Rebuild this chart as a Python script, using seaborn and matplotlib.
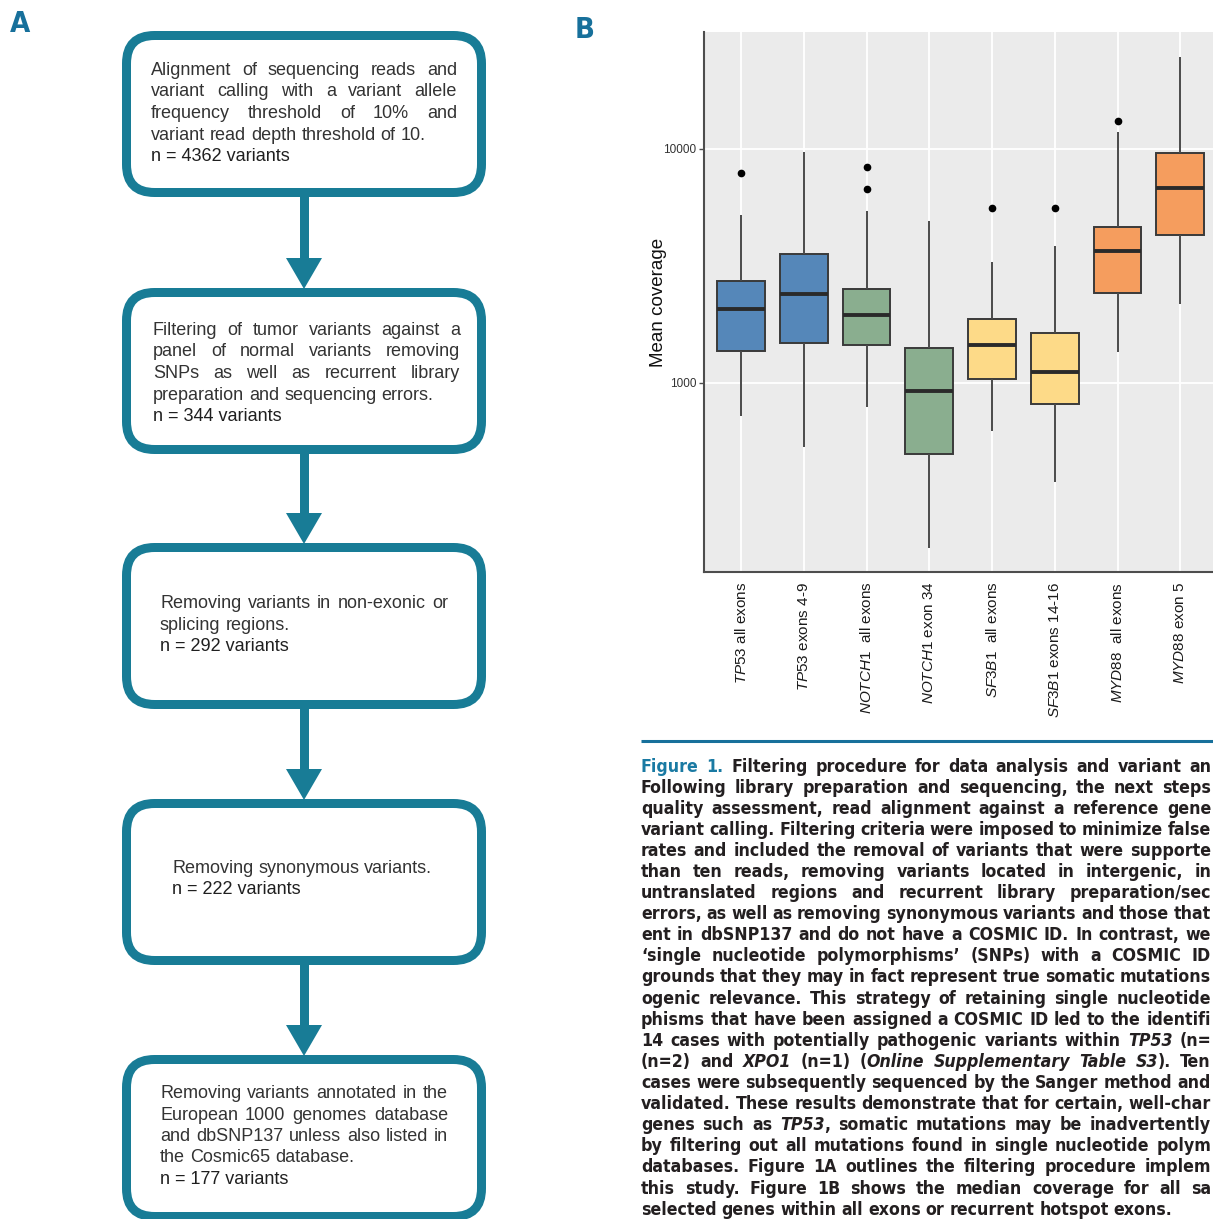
import numpy as np
import pandas as pd
import matplotlib
matplotlib.use("Agg")
import matplotlib.pyplot as plt
from matplotlib import font_manager as fm
from matplotlib.patches import FancyBboxPatch, Polygon, Rectangle
from matplotlib.ticker import NullLocator
import seaborn as sns

# ---------------- coverage per target region (panel B) ----------------
regions = ["TP53 all", "TP53 4-9", "NOTCH1 all", "NOTCH1 34",
           "SF3B1 all", "SF3B1 14-16", "MYD88 all", "MYD88 5"]
region_labels = [r"$\mathit{TP53}$ all exons", r"$\mathit{TP53}$ exons 4-9",
                 r"$\mathit{NOTCH1}$  all exons", r"$\mathit{NOTCH1}$ exon 34",
                 r"$\mathit{SF3B1}$  all exons", r"$\mathit{SF3B1}$ exons 14-16",
                 r"$\mathit{MYD88}$  all exons", r"$\mathit{MYD88}$ exon 5"]
whisker_low = [721, 535, 792, 197, 626, 379, 1357, 2169]
quartile_1 = [1370, 1482, 1458, 499, 1043, 811, 2416, 4302]
median_cov = [2065, 2408, 1946, 924, 1454, 1114, 3654, 6792]
quartile_3 = [2729, 3548, 2512, 1416, 1871, 1631, 4642, 9616]
whisker_high = [5224, 9730, 5433, 4909, 3278, 3838, 11790, 24720]
outliers = [[7870], [], [8350, 6745], [], [5580], [5613], [13170], []]
box_colors = ["#5587B9", "#5587B9", "#8AAE8F", "#8AAE8F",
              "#FDDA88", "#FDDA88", "#F59D5E", "#F59D5E"]

# ---------------- filtering steps (panel A) ----------------
step_text = [
    ["Alignment of sequencing reads and", "variant calling with a variant allele",
     "frequency threshold of 10% and", "variant read depth threshold of 10."],
    ["Filtering of tumor variants against a", "panel of normal variants removing",
     "SNPs as well as recurrent library", "preparation and sequencing errors."],
    ["Removing variants in non-exonic or", "splicing regions."],
    ["Removing synonymous variants."],
    ["Removing variants annotated in the", "European 1000 genomes database",
     "and dbSNP137 unless also listed in", "the Cosmic65 database."],
]
variant_counts = [4362, 344, 292, 222, 177]

# ---------------- legend text (column runs past the page edge) ----------------
caption_lines = [
    "^Figure 1.^ Filtering procedure for data analysis and variant an",
    "Following library preparation and sequencing, the next steps",
    "quality assessment, read alignment against a reference gene",
    "variant calling. Filtering criteria were imposed to minimize false",
    "rates and included the removal of variants that were supporte",
    "than ten reads, removing variants located in intergenic, in",
    "untranslated regions and recurrent library preparation/sec",
    "errors, as well as removing synonymous variants and those that",
    "ent in dbSNP137 and do not have a COSMIC ID. In contrast, we",
    "\u2018single nucleotide polymorphisms\u2019 (SNPs) with a COSMIC ID",
    "grounds that they may in fact represent true somatic mutations",
    "ogenic relevance. This strategy of retaining single nucleotide",
    "phisms that have been assigned a COSMIC ID led to the identifi",
    "14 cases with potentially pathogenic variants within _TP53_ (n=",
    "(n=2) and _XPO1_ (n=1) (_Online Supplementary Table S3_). Ten",
    "cases were subsequently sequenced by the Sanger method and",
    "validated. These results demonstrate that for certain, well-char",
    "genes such as _TP53_, somatic mutations may be inadvertently",
    "by filtering out all mutations found in single nucleotide polym",
    "databases. Figure 1A outlines the filtering procedure implem",
    "this study. Figure 1B shows the median coverage for all sa",
    "selected genes within all exons or recurrent hotspot exons.",
]

# ---------------- styling ----------------
sns.set_theme(style="white")
plt.rcParams["font.family"] = ["Liberation Sans", "DejaVu Sans"]
plt.rcParams["mathtext.fontset"] = "custom"
plt.rcParams["mathtext.rm"] = "Liberation Sans"
plt.rcParams["mathtext.it"] = "Liberation Sans:italic"

TEAL = "#187C96"
LABEL_BLUE = "#17709B"
W, H = 1213, 1219
fig = plt.figure(figsize=(W / 100, H / 100), dpi=100)
fig.patch.set_facecolor("white")

# full-figure overlay in pixel units for the flow diagram and legend text
ov = fig.add_axes([0, 0, 1, 1])
ov.set_xlim(0, W)
ov.set_ylim(H, 0)
ov.axis("off")
renderer = fig.canvas.get_renderer()


def text_width(s, **kw):
    t = ov.text(0, 0, s, **kw)
    w = t.get_window_extent(renderer).width
    t.remove()
    return w


def parse_words(line):
    words, ital, teal = [], False, False
    for tok in line.split(" "):
        segs, buf = [], ""
        for ch in tok:
            if ch in "_^":
                if buf:
                    segs.append((buf, ital, teal))
                    buf = ""
                if ch == "_":
                    ital = not ital
                else:
                    teal = not teal
            else:
                buf += ch
        if buf:
            segs.append((buf, ital, teal))
        words.append(segs)
    return words


def line_width(line, style, seg_style):
    words = parse_words(line)
    space = text_width("a a", **style) - text_width("aa", **style)
    tot = sum(text_width(s, **style, **seg_style(it, tl)) for w in words for s, it, tl in w)
    return tot + space * (len(words) - 1)


def draw_line(line, x0, y, x1, style, seg_style):
    words = parse_words(line)
    widths = []
    for w in words:
        widths.append([text_width(s, **style, **seg_style(it, tl)) for s, it, tl in w])
    space = text_width("a a", **style) - text_width("aa", **style)
    total = sum(sum(w) for w in widths)
    gap = (x1 - x0 - total) / (len(words) - 1) if (x1 is not None and len(words) > 1) else space
    x = x0
    for w, ws in zip(words, widths):
        for (s, it, tl), sw in zip(w, ws):
            ov.text(x, y, s, ha="left", va="baseline", **style, **seg_style(it, tl))
            x += sw
        x += gap


# ---------------- panel A: flow diagram ----------------
box_left, box_right = 126.5, 481.5
box_tops = [35.5, 292.5, 547.5, 803.5, 1059.5]
box_h = 157
border = 9
text_x0 = [151, 153, 160, 172, 160]
text_x1 = [457, 460, 448, None, 448]
text_y0 = [70, 330, 603, 868, 1093]
line_step = 21.5
flow_style = dict(fontsize=13, color="#333333", family=["Liberation Sans", "DejaVu Sans"])

for i, top in enumerate(box_tops):
    ov.add_patch(FancyBboxPatch((box_left, top), box_right - box_left, box_h,
                                boxstyle="round,pad=0,rounding_size=28",
                                facecolor="white", edgecolor=TEAL,
                                linewidth=border * 0.72, zorder=2))
    lines = step_text[i]
    for j, ln in enumerate(lines):
        x1 = text_x1[i] if j < len(lines) - 1 else None
        draw_line(ln, text_x0[i], text_y0[i] + j * line_step + 5, x1, flow_style,
                  lambda it, tl: {})
    ov.text(text_x0[i], text_y0[i] + len(lines) * line_step + 5,
            f"n = {variant_counts[i]} variants", ha="left", va="baseline",
            fontsize=13, color="#1f1f1f", family=["Liberation Sans", "DejaVu Sans"])

    if i < len(box_tops) - 1:
        cx = (box_left + box_right) / 2
        y_start = top + box_h + border / 2
        y_tip = box_tops[i + 1] - border / 2 + 1
        head_h, head_w = 31, 18
        ov.add_patch(Rectangle((cx - border / 2, y_start), border, y_tip - head_h - y_start + 1,
                               facecolor=TEAL, edgecolor="none", zorder=1))
        ov.add_patch(Polygon([(cx - head_w, y_tip - head_h), (cx + head_w, y_tip - head_h),
                              (cx, y_tip)], closed=True, facecolor=TEAL,
                             edgecolor="none", zorder=1))

# condensed bold face for panel letters and legend, when present
has_condensed = any(f.name == "DejaVu Sans" and "Condensed" in f.fname and "Bold" in f.fname
                    for f in fm.fontManager.ttflist)
if has_condensed:
    cond = dict(family=["DejaVu Sans"], fontstretch="condensed")
else:
    cond = dict(family=["Liberation Sans"])

ov.text(20, 24, "A", ha="center", va="center", fontsize=21, fontweight="bold",
        color=LABEL_BLUE, **cond)
ov.text(585, 30, "B", ha="center", va="center", fontsize=21, fontweight="bold",
        color=LABEL_BLUE, **cond)

# ---------------- legend block ----------------
ov.plot([641, W], [741, 741], color=LABEL_BLUE, linewidth=2.2, solid_capstyle="butt")


def cap_seg(it, tl):
    if tl:
        return dict(color="#1A7AA3", fontweight="bold", fontstyle="normal")
    return dict(color="#231F20", fontweight="bold", fontstyle="italic" if it else "normal")


base_style = dict(fontsize=12, **cond)
r1 = 569 / line_width(caption_lines[7], base_style, cap_seg)
r2 = 534 / line_width(caption_lines[-1], base_style, cap_seg)
cap_style = dict(base_style, fontsize=12 * (r1 + r2) / 2)

n_cap = len(caption_lines)
for i, ln in enumerate(caption_lines):
    x1 = None if i == n_cap - 1 else 1211
    draw_line(ln, 641, 771.5 + 21.1 * i, x1, cap_style, cap_seg)

# ---------------- panel B: coverage box plot ----------------
rows = []
for r, lo, q1, md, q3, hi, out in zip(regions, whisker_low, quartile_1, median_cov,
                                      quartile_3, whisker_high, outliers):
    k = len(out) + 1
    vals = [lo] + [q1] * k + [md] * k + [q3] * k + [hi] + list(out)
    rows += [(r, v) for v in vals]
cov = pd.DataFrame(rows, columns=["region", "coverage"])

ax_left, ax_right, ax_top, ax_bottom = 704, 1218, 32, 572
ax = fig.add_axes([ax_left / W, 1 - ax_bottom / H, (ax_right - ax_left) / W,
                   (ax_bottom - ax_top) / H])
ax.set_facecolor("#EBEBEB")
sns.boxplot(data=cov, x="region", y="coverage", hue="region", order=regions,
            hue_order=regions, palette=box_colors, saturation=1, legend=False,
            width=0.76, log_scale=True, linecolor="#3a3a3a", linewidth=1.4,
            fliersize=4.5, showcaps=False,
            flierprops=dict(marker="o", markerfacecolor="black", markeredgecolor="black"),
            medianprops=dict(linewidth=2.8, color="#2a2a2a"),
            whiskerprops=dict(linewidth=1.4, color="#4a4a4a"), ax=ax)
ax.set_xlim(-0.59, 7.6)
ax.set_ylim(10 ** 2.192, 10 ** 4.5)
ax.set_yticks([1000, 10000])
ax.set_yticklabels(["1000", "10000"])
ax.yaxis.set_minor_locator(NullLocator())
ax.set_xticks(range(len(regions)))
ax.set_xticklabels(region_labels, rotation=90, ha="center", va="top")
ax.grid(True, which="major", color="white", linewidth=1.3)
ax.set_axisbelow(True)
for s in ["top", "right"]:
    ax.spines[s].set_visible(False)
for s in ["left", "bottom"]:
    ax.spines[s].set_color("#4d4d4d")
    ax.spines[s].set_linewidth(1.5)
ax.tick_params(axis="y", which="major", length=3.5, width=1, color="#4d4d4d",
               labelsize=8.5, labelcolor="#333333", pad=2, left=True)
ax.tick_params(axis="x", length=0, labelsize=11, labelcolor="#1a1a1a", pad=7)
ax.set_xlabel("")
ax.set_ylabel("Mean coverage", fontsize=13.5, color="#111111")
ax.yaxis.set_label_coords(-0.072, 0.5)

fig.savefig("out.png", dpi=100, facecolor="white")
